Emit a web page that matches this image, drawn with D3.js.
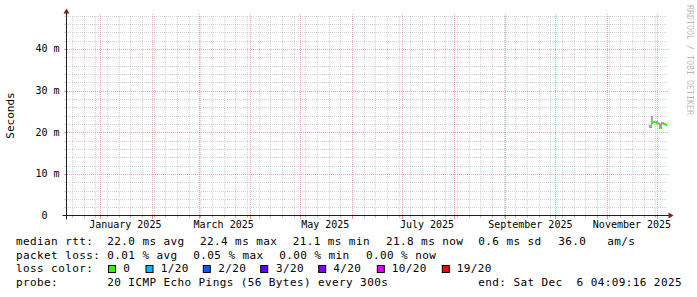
<!DOCTYPE html>
<html><head><meta charset="utf-8">
<script src="https://cdn.jsdelivr.net/npm/d3@7"></script>
<style>
html,body{margin:0;padding:0;background:#fff;}
svg{display:block;}
text{font-family:"DejaVu Sans Mono",monospace;white-space:pre;}
</style></head>
<body>
<script>
// ---- data ----
const endTime = "2025-12-06T17:00:00Z";
const spanDays = 360;
const dates = ["2025-11-26","2025-11-27","2025-11-28","2025-11-29","2025-11-30","2025-12-01","2025-12-02","2025-12-03","2025-12-04","2025-12-05","2025-12-06"];
const medianMs = [21.3, 22.3, 22.4, 22.4, 22.3, 22.2, 21.1, 22.1, 22.1, 22.0, 21.8];
const smokeLoMs = [21.0, 21.9, 22.1, 22.1, 22.0, 21.9, 20.8, 21.9, 21.8, 21.8, 21.6];
const smokeHiMs = [21.8, 23.8, 22.7, 22.8, 22.6, 22.5, 22.3, 22.4, 22.4, 22.3, 22.1];
const yTicks = [0, 10, 20, 30, 40];
const yTickLabels = ["0  ", "10 m", "20 m", "30 m", "40 m"];
const yMax = 48;
const yLabel = "Seconds";
const watermark = "RRDTOOL / TOBI OETIKER";
const legendRtt = [["median rtt:",16],["22.0 ms avg",107.3],["22.4 ms max",200],["21.1 ms min",292.7],["21.8 ms now",386],["0.6 ms sd",478.3],["36.0",558.3],["am/s",607.3]];
const legendLoss = [["packet loss:",16],["0.01 % avg",107.3],["0.05 % max",193.3],["0.00 % min",279.3],["0.00 % now",366]];
const lossLabels = ["0","1/20","2/20","3/20","4/20","10/20","19/20"];
const lossColors = ["#26ff00","#00b8ff","#0059ff","#5e00ff","#7e00ff","#dd00ff","#ff0000"];
const lossBoxX = [108.5,146,203.3,260.7,318.7,377.3,442.3];
const lossLabelX = [123.3,160.7,218.3,276,333.3,391.7,456.7];
const probeText = "20 ICMP Echo Pings (56 Bytes) every 300s";
const endText = "end: Sat Dec  6 04:09:16 2025";

// ---- layout ----
const W = 697, H = 297;
const X0 = 66.5, X1 = 666.5, Y0 = 215.5, Y1 = 15.5;
const svg = d3.select("body").append("svg").attr("width", W).attr("height", H);
svg.append("rect").attr("width", W).attr("height", H).attr("fill", "#fff");

const tEnd = new Date(endTime);
const tStart = new Date(+tEnd - spanDays * 864e5);
const x = d3.scaleUtc().domain([tStart, tEnd]).range([X0, X1]);
const y = d3.scaleLinear().domain([0, yMax]).range([Y0, Y1]);

const gridCol = "rgba(143,143,143,0.4)";
const mgridCol = "rgba(222,79,79,0.5)";

// horizontal grid
const g = svg.append("g").attr("shape-rendering", "crispEdges");
const minorY = d3.range(2, yMax + 0.01, 2).filter(v => v % 10 !== 0);
minorY.forEach(v => {
  const yy = Math.round(y(v)) + 0.5;
  g.append("line").attr("x1", X0 - 1).attr("x2", X1 + 1).attr("y1", yy).attr("y2", yy)
    .attr("stroke", gridCol).attr("stroke-dasharray", "1,1");
  g.append("line").attr("x1", X0 - 3).attr("x2", X0 - 1).attr("y1", yy).attr("y2", yy).attr("stroke", gridCol);
});
yTicks.filter(v => v > 0).forEach(v => {
  const yy = Math.round(y(v)) + 0.5;
  g.append("line").attr("x1", X0 - 2).attr("x2", X1 + 2).attr("y1", yy).attr("y2", yy)
    .attr("stroke", mgridCol).attr("stroke-dasharray", "1,1");
  g.append("line").attr("x1", X0 - 3).attr("x2", X0).attr("y1", yy).attr("y2", yy).attr("stroke", mgridCol);
});
// vertical grid
const months = d3.utcMonth.range(tStart, tEnd);
const monthSet = new Set(months.map(d => +d));
d3.utcSunday.range(tStart, tEnd).filter(d => !monthSet.has(+d)).forEach(d => {
  const xx = Math.round(x(d)) + 0.5;
  g.append("line").attr("x1", xx).attr("x2", xx).attr("y1", Y0 + 1).attr("y2", Y1 - 1)
    .attr("stroke", gridCol).attr("stroke-dasharray", "1,1");
  g.append("line").attr("x1", xx).attr("x2", xx).attr("y1", Y0).attr("y2", Y0 + 2).attr("stroke", gridCol);
});
months.forEach(d => {
  const xx = Math.round(x(d)) + 0.5;
  g.append("line").attr("x1", xx).attr("x2", xx).attr("y1", Y0 + 3).attr("y2", Y1 - 2)
    .attr("stroke", mgridCol).attr("stroke-dasharray", "1,1");
  g.append("line").attr("x1", xx).attr("x2", xx).attr("y1", Y0).attr("y2", Y0 + 3).attr("stroke", mgridCol);
});

// data
const pts = dates.map((d, i) => ({t: new Date(d + "T12:00:00Z"), m: medianMs[i], lo: smokeLoMs[i], hi: smokeHiMs[i]}));
svg.append("path").datum(pts)
  .attr("d", d3.area().x(d => x(d.t)).y0(d => y(d.lo)).y1(d => y(d.hi)).curve(d3.curveStepAfter))
  .attr("fill", "#a8a8a8").attr("shape-rendering", "crispEdges");
svg.append("path").datum(pts)
  .attr("d", d3.line().x(d => x(d.t)).y(d => Math.round(y(d.m)) + 0.5).curve(d3.curveStepAfter))
  .attr("fill", "none").attr("stroke", lossColors[0]).attr("stroke-width", 1).attr("shape-rendering", "crispEdges");

// axes
const axisCol = "#1f1f1f", arrowCol = "#801f1f";
svg.append("line").attr("x1", X0 - 4).attr("x2", X1 + 4).attr("y1", Y0).attr("y2", Y0).attr("stroke", axisCol);
svg.append("line").attr("x1", X0).attr("x2", X0).attr("y1", Y0 + 4).attr("y2", Y1 - 4).attr("stroke", axisCol);
svg.append("path").attr("d", `M${X1 + 2},${Y0 - 3}L${X1 + 2},${Y0 + 3}L${X1 + 7},${Y0}Z`).attr("fill", arrowCol);
svg.append("path").attr("d", `M${X0 - 3},${Y1 - 2}L${X0 + 3},${Y1 - 2}L${X0},${Y1 - 7}Z`).attr("fill", arrowCol);

// y labels
yTicks.forEach((v, i) => {
  svg.append("text").attr("x", 59.5).attr("y", y(v)).attr("dy", "0.35em")
    .attr("text-anchor", "end").attr("font-size", 10).attr("xml:space", "preserve")
    .text(yTickLabels[i]);
});
// x labels
const fmt = d3.utcFormat("%B %Y");
months.filter(d => d.getUTCMonth() % 2 === 0).forEach(d => {
  const c = new Date(+d + 15 * 864e5);
  svg.append("text").attr("x", x(c)).attr("y", 228).attr("text-anchor", "middle")
    .attr("font-size", 10).text(fmt(d));
});
// unit label
svg.append("text").attr("transform", `translate(14,${(Y0 + Y1) / 2}) rotate(-90)`)
  .attr("text-anchor", "middle").attr("font-size", 11).text(yLabel);
// watermark
svg.append("text").attr("transform", `translate(693,5) rotate(90)`)
  .attr("dominant-baseline", "hanging").attr("font-size", 8.3).attr("fill", "rgba(0,0,0,0.3)")
  .text(watermark);

// legend
const lf = 11;
const put = (t, xx, yy) => svg.append("text").attr("x", xx).attr("y", yy).attr("font-size", lf)
  .attr("letter-spacing", 0.4).attr("xml:space", "preserve").text(t);
legendRtt.forEach(([t, xx]) => put(t, xx, 245));
legendLoss.forEach(([t, xx]) => put(t, xx, 258.7));
put("loss color:", 16, 272.3);
lossLabels.forEach((l, i) => {
  svg.append("rect").attr("x", lossBoxX[i]).attr("y", 265.5).attr("width", 7).attr("height", 7)
    .attr("fill", lossColors[i]).attr("stroke", "#000");
  put(l, lossLabelX[i], 272.3);
});
put("probe:", 16, 286);
put(probeText, 107.3, 286);
put(endText, 478.3, 286);
</script>
</body></html>
